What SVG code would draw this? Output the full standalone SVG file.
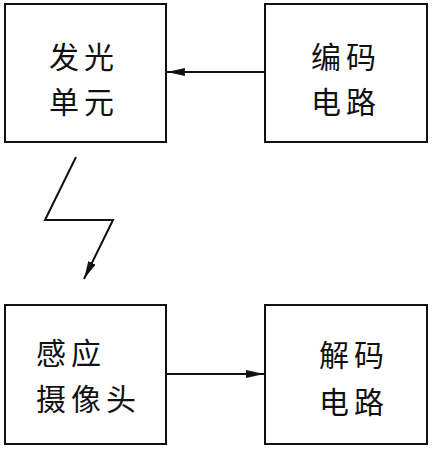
<svg xmlns="http://www.w3.org/2000/svg" width="432" height="450" viewBox="0 0 432 450">
<style>
.box{fill:#fff;stroke:#111;stroke-width:2}
.lbl{font-family:"Noto Sans CJK SC","Noto Sans CJK JP",sans-serif;font-size:30px;fill:#111;letter-spacing:5px}
.line{fill:none;stroke:#111;stroke-width:2}
</style>
<defs>
<marker id="ah" viewBox="0 0 18 8" refX="18" refY="4" markerWidth="18" markerHeight="8" markerUnits="userSpaceOnUse" orient="auto">
<path d="M0,0 L18,4 L0,8 Z" fill="#111"/>
</marker>
</defs>
<rect width="432" height="450" fill="#fff"/>
<g id="node-light">
<rect class="box" x="5" y="4" width="161" height="138"/>
<text class="lbl" x="49" y="68">发光</text>
<text class="lbl" x="49" y="113">单元</text>
</g>
<g id="node-encode">
<rect class="box" x="265" y="4" width="162" height="138"/>
<text class="lbl" x="311" y="68">编码</text>
<text class="lbl" x="311" y="113">电路</text>
</g>
<g id="node-camera">
<rect class="box" x="5" y="305" width="161" height="139"/>
<text class="lbl" x="36" y="364">感应</text>
<text class="lbl" x="36" y="410">摄像头</text>
</g>
<g id="node-decode">
<rect class="box" x="265" y="305" width="162" height="139"/>
<text class="lbl" x="319" y="366">解码</text>
<text class="lbl" x="319" y="413">电路</text>
</g>
<g id="connectors">
<line class="line" x1="265" y1="72" x2="167" y2="72" marker-end="url(#ah)"/>
<line class="line" x1="166" y1="374" x2="264" y2="374" marker-end="url(#ah)"/>
<polyline class="line" points="76,157 45,220 113,220 84,279" marker-end="url(#ah)"/>
</g>
</svg>
